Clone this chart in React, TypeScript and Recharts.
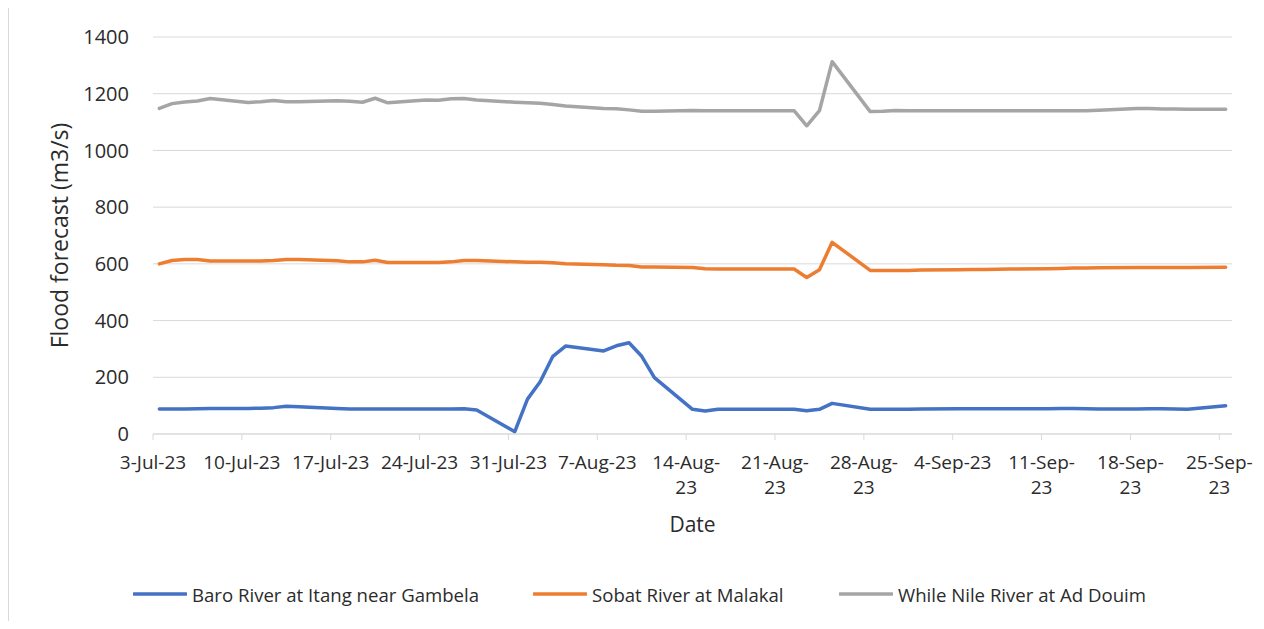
import React from 'react';
import { LineChart, Line, XAxis, YAxis, CartesianGrid, Legend, Label } from 'recharts';

const dates = [
  '2023-07-03', '2023-07-04', '2023-07-05', '2023-07-06', '2023-07-07',
  '2023-07-10', '2023-07-11', '2023-07-12', '2023-07-13', '2023-07-14',
  '2023-07-17', '2023-07-18', '2023-07-19', '2023-07-20', '2023-07-21',
  '2023-07-24', '2023-07-25', '2023-07-26', '2023-07-27', '2023-07-28',
  '2023-07-31', '2023-08-01', '2023-08-02', '2023-08-03', '2023-08-04',
  '2023-08-07', '2023-08-08', '2023-08-09', '2023-08-10', '2023-08-11',
  '2023-08-14', '2023-08-15', '2023-08-16', '2023-08-17', '2023-08-18',
  '2023-08-21', '2023-08-22', '2023-08-23', '2023-08-24', '2023-08-25',
  '2023-08-28', '2023-08-29', '2023-08-30', '2023-08-31', '2023-09-01',
  '2023-09-04', '2023-09-05', '2023-09-06', '2023-09-07', '2023-09-08',
  '2023-09-11', '2023-09-12', '2023-09-13', '2023-09-14', '2023-09-15',
  '2023-09-18', '2023-09-19', '2023-09-20', '2023-09-21', '2023-09-22',
  '2023-09-25',
];

const baro = [
  88, 88, 88, 89, 90,
  90, 91, 93, 98, 96,
  90, 88, 88, 88, 88,
  88, 88, 88, 89, 85,
  8, 123, 184, 274, 310,
  293, 311, 322, 274, 199,
  87, 81, 87, 87, 87,
  87, 87, 82, 87, 108,
  87, 87, 87, 87, 88,
  89, 89, 89, 89, 89,
  89, 90, 90, 89, 88,
  88, 89, 89, 88, 87,
  100,
];

const sobat = [
  600, 612, 615, 615, 610,
  610, 610, 612, 615, 615,
  611, 607, 607, 613, 605,
  605, 605, 607, 612, 612,
  607, 606, 606, 604, 600,
  597, 595, 594, 589, 589,
  587, 583, 582, 582, 582,
  582, 582, 552, 579, 676,
  577, 577, 577, 577, 578,
  579, 580, 580, 581, 582,
  583, 584, 585, 585, 586,
  587, 587, 587, 587, 587,
  588,
];

const whiteNile = [
  1148, 1165, 1171, 1174, 1183,
  1169, 1172, 1176, 1172, 1172,
  1175, 1173, 1170, 1184, 1168,
  1178, 1177, 1182, 1183, 1178,
  1170, 1168, 1166, 1162, 1157,
  1148, 1147, 1143, 1138, 1138,
  1141, 1140, 1140, 1140, 1140,
  1140, 1140, 1087, 1140, 1313,
  1137, 1138, 1141, 1140, 1140,
  1140, 1140, 1140, 1140, 1140,
  1140, 1140, 1140, 1140, 1142,
  1148, 1148, 1146, 1146, 1145,
  1145,
];

const tickLabels = [
  '3-Jul-23', '10-Jul-23', '17-Jul-23', '24-Jul-23', '31-Jul-23', '7-Aug-23',
  '14-Aug-23', '21-Aug-23', '28-Aug-23', '4-Sep-23', '11-Sep-23', '18-Sep-23', '25-Sep-23',
];

const yTicks = [0, 200, 400, 600, 800, 1000, 1200, 1400];

const seriesNames = [
  'Baro River at Itang near Gambela',
  'Sobat River at Malakal',
  'While Nile River at Ad Douim',
];
const seriesKeys = ['baro', 'sobat', 'nile'];
const colors = ['#4472C4', '#ED7D31', '#A5A5A5'];

const FONT = "'Open Sans', sans-serif";
const TEXT = '#2b2b2b';

const startMs = Date.UTC(2023, 6, 3);
const dayIndex = (iso: string) => Math.round((Date.parse(iso + 'T00:00:00Z') - startMs) / 86400000);
const lastDay = dayIndex(dates[dates.length - 1]) + 1;

// points sit in the middle of their day (date axis "between tick marks")
const data = dates.map((d, i) => ({
  x: dayIndex(d) + 0.5,
  baro: baro[i],
  sobat: sobat[i],
  nile: whiteNile[i],
}));

const tickDays = tickLabels.map((_, i) => i * 7);

let ctx: CanvasRenderingContext2D | null = null;
function measure(text: string, size: number): number {
  try {
    if (!ctx) ctx = document.createElement('canvas').getContext('2d');
    if (ctx) {
      ctx.font = `${size}px 'Open Sans'`;
      return ctx.measureText(text).width;
    }
  } catch (e) {
    /* ignore */
  }
  return text.length * size * 0.52;
}

const X_FONT = 19;

const XTick = (props: any) => {
  const { x, y, payload } = props;
  const idx = tickDays.indexOf(payload.value);
  const label = idx >= 0 ? tickLabels[idx] : '';
  let lines = [label];
  if (measure(label, X_FONT) > 82) {
    const cut = label.lastIndexOf('-');
    lines = [label.slice(0, cut + 1), label.slice(cut + 1)];
  }
  return (
    <text x={x} y={y} textAnchor="middle" fontSize={X_FONT} fontFamily={FONT} fill={TEXT}>
      {lines.map((l, i) => (
        <tspan key={i} x={x} dy={i === 0 ? 27 : 25}>
          {l}
        </tspan>
      ))}
    </text>
  );
};

const renderLegend = () => {
  const slots = [400, 306, 360];
  return (
    <div style={{ display: 'flex', paddingLeft: 125, height: 24, alignItems: 'center' }}>
      {seriesNames.map((n, i) => (
        <div key={n} style={{ display: 'flex', alignItems: 'center', width: slots[i], flex: 'none' }}>
          <svg width={54} height={6} style={{ display: 'block' }}>
            <line x1={1} y1={3} x2={53} y2={3} stroke={colors[i]} strokeWidth={3.5} strokeLinecap="round" />
          </svg>
          <span style={{ marginLeft: 5, fontSize: 18.6, fontFamily: FONT, color: TEXT, whiteSpace: 'nowrap' }}>{n}</span>
        </div>
      ))}
    </div>
  );
};

export default function App() {
  return (
    <div style={{ position: 'relative', width: 1248, height: 613 }}>
      <div style={{ position: 'absolute', left: 0, top: 0, width: 1, height: 613, background: '#d9d9d9' }} />
      <div style={{ position: 'absolute', left: 1252, top: 0, width: 1, height: 613, background: '#d9d9d9' }} />
      <LineChart
        width={1248}
        height={613}
        data={data}
        margin={{ top: 29, right: 24, left: 85, bottom: 127 }}
        style={{ fontFamily: FONT }}
      >
        <CartesianGrid horizontal vertical={false} stroke="#d9d9d9" strokeWidth={1} />
        <XAxis
          type="number"
          dataKey="x"
          domain={[0, lastDay]}
          ticks={tickDays}
          interval={0}
          height={60}
          axisLine={{ stroke: '#d9d9d9', strokeWidth: 1 }}
          tickLine={{ stroke: '#d9d9d9', strokeWidth: 1 }}
          tickSize={6}
          tickMargin={2}
          tick={<XTick />}
        >
          <Label
            content={(p: any) => {
              const vb = p.viewBox || {};
              return (
                <text
                  x={vb.x + vb.width / 2}
                  y={vb.y + 98}
                  textAnchor="middle"
                  fontSize={21}
                  fontFamily={FONT}
                  fill={TEXT}
                >
                  Date
                </text>
              );
            }}
          />
        </XAxis>
        <YAxis
          type="number"
          domain={[0, 1400]}
          ticks={yTicks}
          interval={0}
          width={60}
          axisLine={false}
          tickLine={false}
          tickSize={0}
          tickMargin={24}
          tick={{ fontSize: 20, fontFamily: FONT, fill: TEXT }}
        >
          <Label
            content={(p: any) => {
              const vb = p.viewBox || {};
              const cx = vb.x - 34;
              const cy = vb.y + vb.height / 2;
              return (
                <text
                  x={cx}
                  y={cy}
                  transform={`rotate(-90, ${cx}, ${cy})`}
                  textAnchor="middle"
                  dominantBaseline="central"
                  fontSize={23}
                  fontFamily={FONT}
                  fill={TEXT}
                >
                  Flood forecast (m3/s)
                </text>
              );
            }}
          />
        </YAxis>
        <Legend
          layout="horizontal"
          verticalAlign="middle"
          align="center"
          content={renderLegend}
          wrapperStyle={{ left: 0, top: 574, width: 1248, bottom: 'auto' }}
        />
        {seriesKeys.map((k, i) => (
          <Line
            key={k}
            type="linear"
            dataKey={k}
            name={seriesNames[i]}
            stroke={colors[i]}
            strokeWidth={3.5}
            dot={false}
            activeDot={false}
            strokeLinejoin="round"
            strokeLinecap="round"
            isAnimationActive={false}
          />
        ))}
      </LineChart>
    </div>
  );
}
